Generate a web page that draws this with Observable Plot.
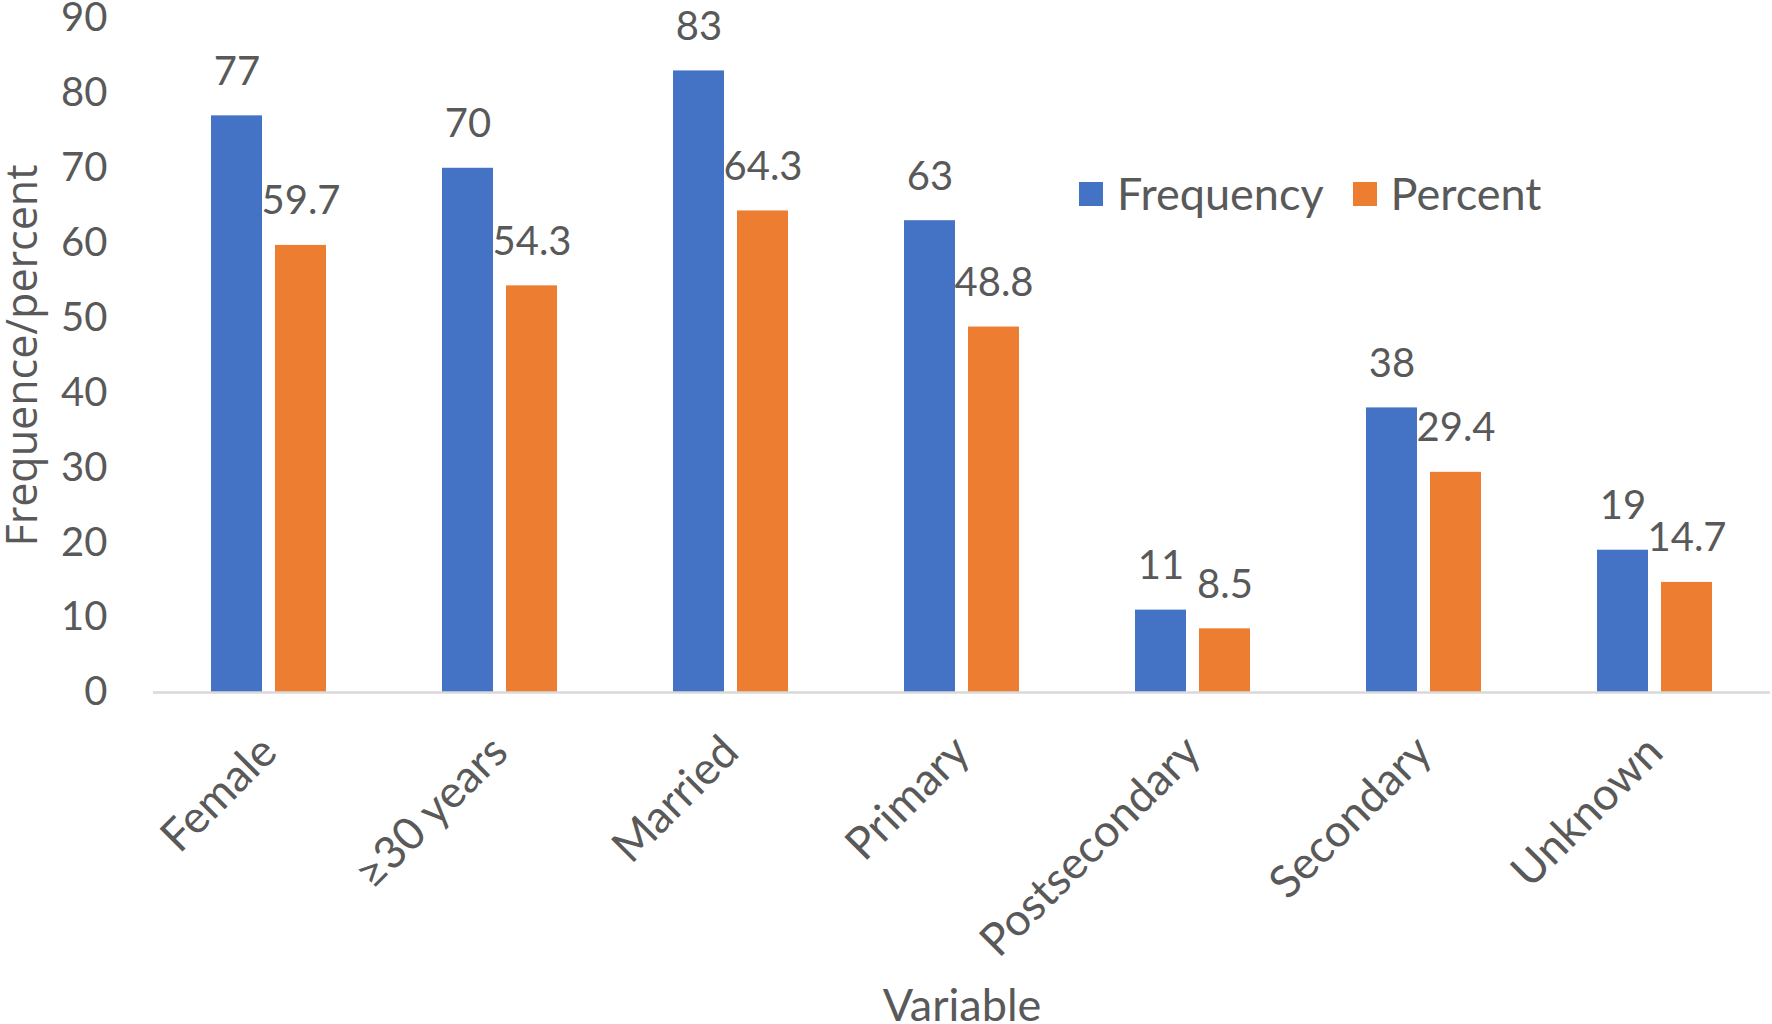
<!DOCTYPE html>
<html><head><meta charset="utf-8">
<script src="https://cdn.jsdelivr.net/npm/d3@7"></script>
<script src="https://cdn.jsdelivr.net/npm/@observablehq/plot@0.6"></script>
<style>
body{margin:0;background:#fff;}
#wrap{position:relative;width:1772px;height:1024px;overflow:hidden;}
#legend{position:absolute;left:1079px;top:171px;display:flex;align-items:center;font-family:Lato;font-size:45px;line-height:1;color:#595959;}
#legend .sw{width:24px;height:24px;display:inline-block;margin-right:14px;}
#legend .item{display:flex;align-items:center;margin-right:29px;}
[aria-label^="fx-axis"] text{font-size:45px;}
[aria-label="y-axis"] > text, [aria-label="y-axis label"] text{font-family:"Open Sans";font-size:43px;}
</style></head>
<body><div id="wrap"></div>
<script>
const categories = ["Female","≥30 years","Married","Primary","Postsecondary","Secondary","Unknown"];
const frequency = [77,70,83,63,11,38,19];
const percent = [59.7,54.3,64.3,48.8,8.5,29.4,14.7];
const series = ["Frequency","Percent"];
const seriesColors = ["#4472C4","#ED7D31"];
const yTicks = [0,10,20,30,40,50,60,70,80,90];

const rows = categories.flatMap((c,i)=>[
  {category:c, series:series[0], value:frequency[i]},
  {category:c, series:series[1], value:percent[i]}
]);

const chart = Plot.plot({
  width:1772, height:1024,
  marginTop:18, marginRight:2, marginBottom:332, marginLeft:153,
  style:{fontFamily:"Lato", fontSize:"40px", color:"#595959", background:"#fff", overflow:"visible"},
  facet:{data:rows, x:"category"},
  fx:{domain:categories, padding:0, tickRotate:-45, tickSize:0, tickPadding:52, label:"Variable", labelAnchor:"center", labelOffset:328},
  x:{domain:series, paddingInner:0.2, paddingOuter:0.877, axis:null},
  y:{domain:[0,90], ticks:yTicks, tickSize:0, tickPadding:46, label:"Frequence/percent", labelArrow:"none", labelAnchor:"center", labelOffset:147},
  color:{domain:series, range:seriesColors},
  marks:[
    Plot.barY(rows,{x:"series", y:"value", fill:"series"}),
    Plot.ruleY([0],{stroke:"#D9D9D9", strokeWidth:2.5}),
    Plot.text(rows,{x:"series", y:"value", text:d=>String(d.value), dy:-44, fill:"#595959", fontSize:40})
  ]
});
const wrap = document.getElementById("wrap");
wrap.appendChild(chart);

const legend = document.createElement("div");
legend.id = "legend";
series.forEach((s,i)=>{
  const item = document.createElement("span");
  item.className = "item";
  const sw = document.createElement("span");
  sw.className = "sw";
  sw.style.background = seriesColors[i];
  item.appendChild(sw);
  item.appendChild(document.createTextNode(s));
  legend.appendChild(item);
});
wrap.appendChild(legend);
</script>
</body></html>
